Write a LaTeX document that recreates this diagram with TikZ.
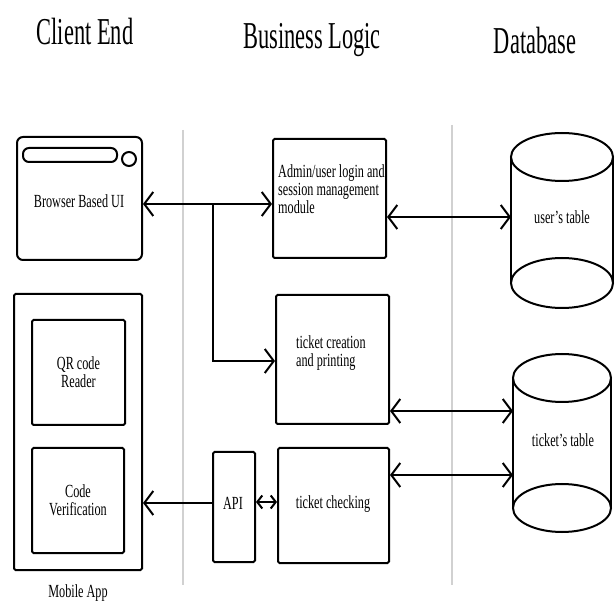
\documentclass[tikz,border=0pt]{standalone}
\usepackage{fontspec}
\setmainfont{Liberation Serif}[FakeStretch=0.66]
\newfontfamily\titlefont{Liberation Serif}[FakeStretch=0.59]
\usetikzlibrary{arrows.meta}
\newcommand\lblfont{\fontsize{18.5}{18}\selectfont}
\newcommand\ttlfont{\titlefont\fontsize{38}{40}\selectfont}
\begin{document}
\begin{tikzpicture}[x=1pt,y=-1pt,
  box/.style={draw, line width=2pt, rounded corners=1.5pt, inner sep=0pt, align=center, font=\lblfont},
  txt/.style={inner sep=0pt, font=\lblfont},
  ttl/.style={inner sep=0pt, anchor=base, font=\ttlfont},
  conn/.style={line width=2pt},
  sepline/.style={draw=black!18, line width=1.5pt},
  cyl/.style={line width=2pt},
  >={Straight Barb[length=9pt,width=24pt]},
  small/.style={line width=2pt, arrows={Straight Barb[length=5pt,width=13pt]-Straight Barb[length=5pt,width=13pt]}}]
\useasboundingbox (0,0) rectangle (616,601);
% titles
\node[ttl] (t1) at (85,45) {Client End};
\node[ttl] (t2) at (312,49) {Business Logic};
\node[ttl] (t3) at (535,54) {Database};
% separators
\draw[sepline] (183,130) -- (183,585);
\draw[sepline] (452,125) -- (452,585);
% client end
\node[box, rounded corners=6pt, minimum width=125pt, minimum height=123pt] (browser) at (79.5,198.5) {};
\draw[line width=2pt, rounded corners=6pt] (23,148) rectangle (117,162);
\draw[line width=2pt] (129,159) circle [radius=7];
\node[txt, anchor=base] (browsertxt) at (79,208) {Browser Based UI};
\node[box, minimum width=128pt, minimum height=276pt] (mobile) at (78,432) {};
\node[box, minimum width=93pt, minimum height=105pt] (qr) at (78.5,372.5) {QR code\\Reader};
\node[box, minimum width=92pt, minimum height=105pt] (codev) at (78,500.5) {Code\\Verification};
\node[txt, anchor=base] (mlabel) at (78,597) {Mobile App};
% business logic
\node[box, minimum width=113pt, minimum height=119pt] (admin) at (329.5,198.5) {};
\node[txt, anchor=north west, align=left] (admintxt) at (278,164) {Admin/user login and\\session management\\module};
\node[box, minimum width=113pt, minimum height=129pt] (creation) at (332.5,359.5) {};
\node[txt, anchor=north west, align=left] (creationtxt) at (296,335) {ticket creation\\and printing};
\node[box, minimum width=111pt, minimum height=115pt] (checking) at (333.5,505.5) {};
\node[txt, anchor=base] (checkingtxt) at (333,508) {ticket checking};
\node[box, minimum width=42pt, minimum height=110pt] (api) at (234,507) {};
\node[txt, anchor=base] (apitxt) at (233,509) {API};
% database
\node[inner sep=0pt, outer sep=0pt, minimum width=102pt, minimum height=176pt] (users) at (562,220) {};
\draw[cyl] (562,157) ellipse [x radius=51, y radius=24];
\draw[cyl] (511,157) -- (511,283);
\draw[cyl] (613,157) -- (613,283);
\draw[cyl] (562,283) ellipse [x radius=51, y radius=25];
\node[txt, anchor=base] (userstxt) at (562,224) {user’s table};
\node[inner sep=0pt, outer sep=0pt, minimum width=98pt, minimum height=178pt] (tickets) at (562,443) {};
\draw[cyl] (562,378) ellipse [x radius=49, y radius=24];
\draw[cyl] (513,378) -- (513,508);
\draw[cyl] (611,378) -- (611,508);
\draw[cyl] (562,508) ellipse [x radius=49, y radius=24];
\node[txt, anchor=base] (ticketstxt) at (563,447) {ticket’s table};
% connector levels
\coordinate (j1) at (213,204);
\coordinate (l2) at (0,361);
\coordinate (l3) at (0,217);
\coordinate (l4) at (0,411);
\coordinate (l5) at (0,475);
\coordinate (l6) at (0,502);
\coordinate (l7) at (0,503);
% connectors
\draw[conn, <->] (browser.east |- j1) -- (admin.west |- j1);
\draw[conn, ->] (j1) |- (creation.west |- l2);
\draw[conn, <->] (admin.east |- l3) -- (users.west |- l3);
\draw[conn, <->] (creation.east |- l4) -- (tickets.west |- l4);
\draw[conn, <->] (checking.east |- l5) -- (tickets.west |- l5);
\draw[small] (api.east |- l6) -- (checking.west |- l6);
\draw[conn, ->] (api.west |- l7) -- (mobile.east |- l7);
\end{tikzpicture}
\end{document}
